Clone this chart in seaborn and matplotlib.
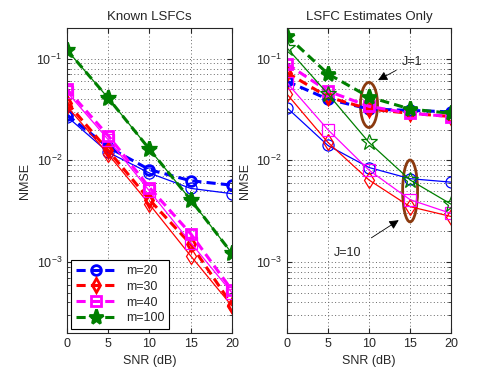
import numpy as np
import pandas as pd
import seaborn as sns
import matplotlib
matplotlib.use('Agg')
import matplotlib.pyplot as plt
from matplotlib.patches import Ellipse

# SNR values (dB)
snr = [0, 5, 10, 15, 20]
m_labels = ['m=20', 'm=30', 'm=40', 'm=100']
colors = ['#0000ff', '#ff0000', '#ff00ff', '#007f00']
markers = ['o', 'd', 's', '*']

# Known LSFCs: dashed and solid curves
known_dash = {
    'm=20': [0.028, 0.0135, 0.0081, 0.0063, 0.0057],
    'm=30': [0.037, 0.0125, 0.0041, 0.0015, 0.00038],
    'm=40': [0.050, 0.0175, 0.0054, 0.0019, 0.00053],
    'm=100': [0.122, 0.041, 0.0129, 0.0041, 0.00122],
}
known_solid = {
    'm=20': [0.027, 0.012, 0.0075, 0.0053, 0.0047],
    'm=30': [0.034, 0.0115, 0.0037, 0.00115, 0.00037],
    'm=40': [0.047, 0.016, 0.0050, 0.00155, 0.0005],
    'm=100': [0.122, 0.041, 0.0129, 0.0041, 0.00122],
}
# LSFC estimates only: J=1 (dashed) and J=10 (solid)
est_j1 = {
    'm=20': [0.060, 0.040, 0.032, 0.031, 0.030],
    'm=30': [0.073, 0.042, 0.032, 0.029, 0.027],
    'm=40': [0.089, 0.048, 0.034, 0.029, 0.027],
    'm=100': [0.168, 0.071, 0.042, 0.032, 0.029],
}
est_j10 = {
    'm=20': [0.033, 0.014, 0.0085, 0.0066, 0.0061],
    'm=30': [0.045, 0.015, 0.0064, 0.0035, 0.0028],
    'm=40': [0.058, 0.020, 0.0080, 0.0041, 0.0030],
    'm=100': [0.128, 0.045, 0.015, 0.0064, 0.0037],
}

sns.set_style('ticks')
plt.rcParams['font.family'] = ['Liberation Sans', 'DejaVu Sans']
plt.rcParams['font.size'] = 9
plt.rcParams['xtick.direction'] = 'in'
plt.rcParams['ytick.direction'] = 'in'

fig = plt.figure(figsize=(4.98, 3.75), dpi=100)
ax1 = fig.add_axes([0.1345, 0.112, 0.331, 0.813])
ax2 = fig.add_axes([0.576, 0.112, 0.330, 0.813])


def draw(ax, solid, dash):
    for lab, c, mk in zip(m_labels, colors, markers):
        ms = 11 if mk == '*' else 7
        df_s = pd.DataFrame({'snr': snr, 'nmse': solid[lab]})
        sns.lineplot(data=df_s, x='snr', y='nmse', ax=ax, color=c, lw=0.9,
                     marker=mk, markersize=ms + 1, markerfacecolor='none',
                     markeredgecolor=c, markeredgewidth=0.9)
        df_d = pd.DataFrame({'snr': snr, 'nmse': dash[lab]})
        fc = c if mk == '*' else 'none'
        sns.lineplot(data=df_d, x='snr', y='nmse', ax=ax, color=c, lw=2.2,
                     linestyle=(0, (3, 1.7)), marker=mk, markersize=ms,
                     markerfacecolor=fc, markeredgecolor=c, markeredgewidth=2,
                     label=lab)


draw(ax1, known_solid, known_dash)
draw(ax2, est_j10, est_j1)

for ax in (ax1, ax2):
    ax.set_yscale('log')
    ax.set_xlim(0, 20)
    ax.set_ylim(2e-4, 2e-1)
    ax.set_xticks(snr)
    ax.set_xlabel('SNR (dB)')
    ax.set_ylabel('NMSE')
    ax.grid(True, which='major', ls=(0, (1, 2.5)), color='0.4', lw=0.7)
    ax.grid(True, which='minor', axis='y', ls=(0, (1, 2.5)), color='0.4', lw=0.7)
    ax.tick_params(which='both', top=True, right=True, labelsize=9)
    for sp in ax.spines.values():
        sp.set_linewidth(0.8)
    ax.get_legend().remove()

ax1.set_title('Known LSFCs', fontsize=9.5)
ax2.set_title('LSFC Estimates Only', fontsize=9.5)

handles, labels = ax1.get_legend_handles_labels()
leg = ax1.legend(handles[-4:], labels[-4:], loc='lower left', fontsize=9,
                 fancybox=False, edgecolor='k', framealpha=1,
                 handlelength=3.2, borderaxespad=0.3, labelspacing=0.3)
leg.get_frame().set_linewidth(0.8)

# annotations on the right panel
brown = '#8b3a0f'
ax2.add_patch(Ellipse((0.5, 0.748), 0.104, 0.148, transform=ax2.transAxes,
                      fill=False, edgecolor=brown, lw=2))
ax2.add_patch(Ellipse((0.75, 0.466), 0.091, 0.203, transform=ax2.transAxes,
                      fill=False, edgecolor=brown, lw=2))
ax2.annotate('J=1', xy=(0.54, 0.825), xytext=(0.70, 0.89),
             xycoords='axes fraction', textcoords='axes fraction',
             fontsize=9, ha='left', va='center',
             arrowprops=dict(arrowstyle='-|>', color='k', lw=0.6,
                             mutation_scale=14))
ax2.annotate('J=10', xy=(0.695, 0.375), xytext=(0.37, 0.262),
             xycoords='axes fraction', textcoords='axes fraction',
             fontsize=9, ha='center', va='center',
             arrowprops=dict(arrowstyle='-|>', color='k', lw=0.6,
                             mutation_scale=14, shrinkA=8))

plt.savefig('out.png', dpi=100)
